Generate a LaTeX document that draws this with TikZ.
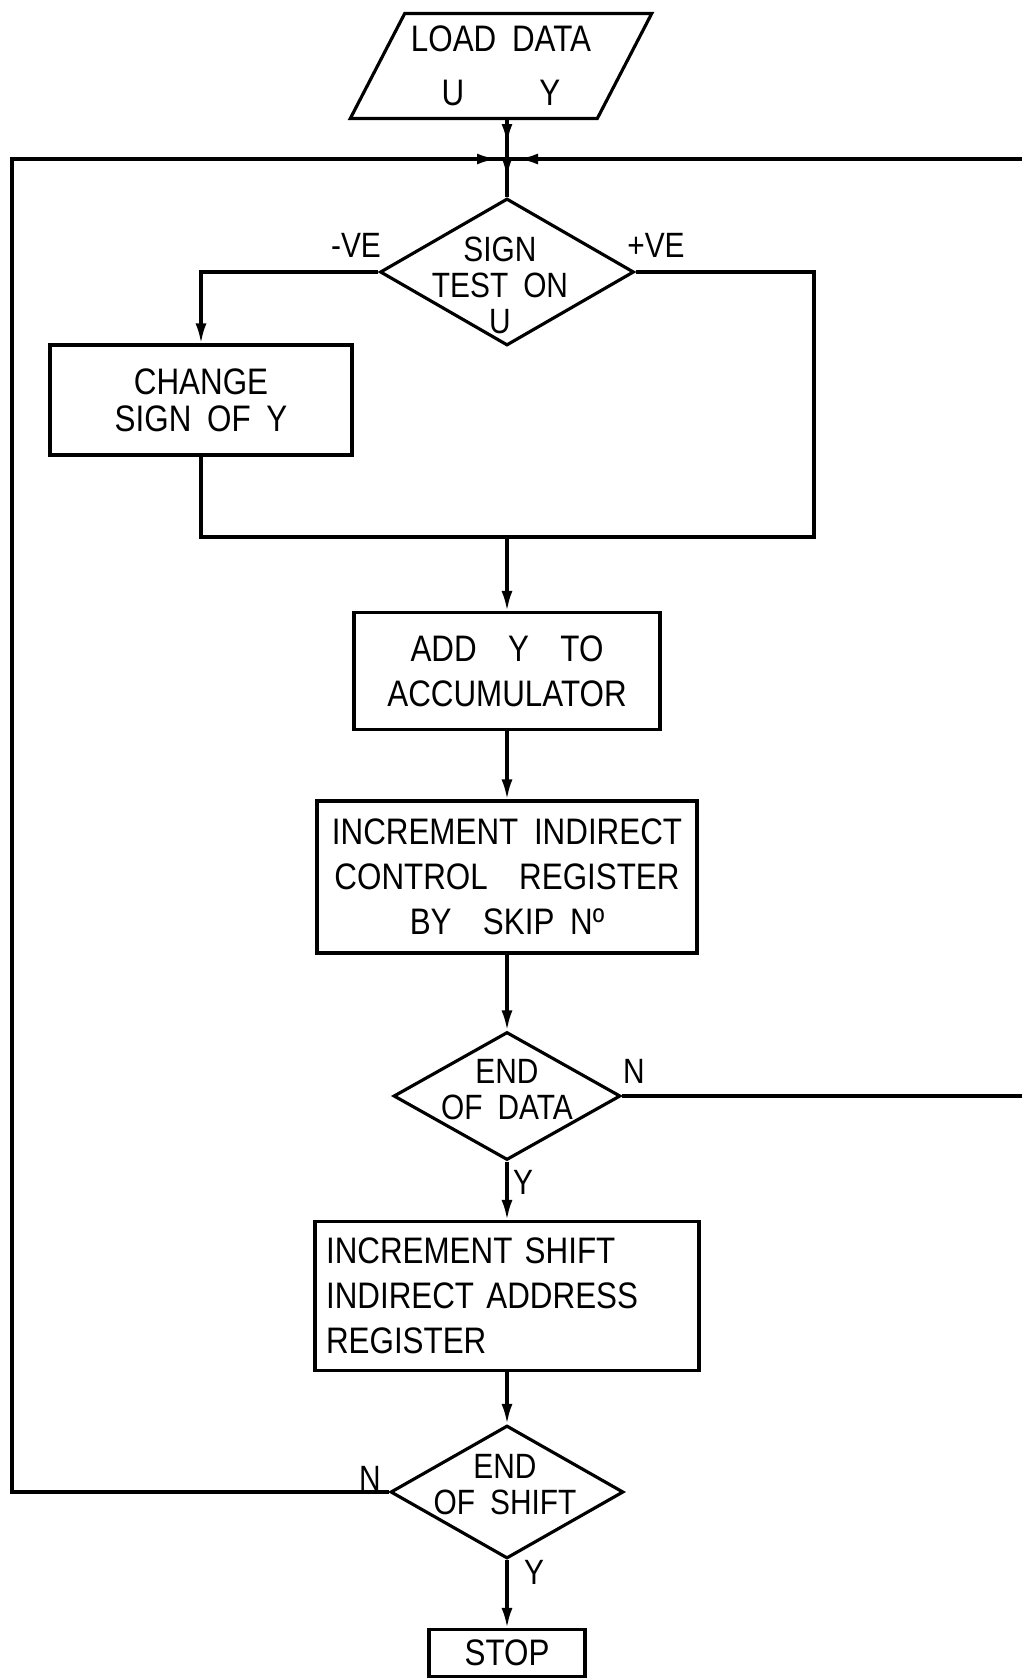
\documentclass[tikz,border=0pt]{standalone}
\usepackage{fontspec}
\setmainfont{Liberation Sans}[FakeStretch=0.85,WordSpace=1.8]
\usepackage{tikz}
\usetikzlibrary{arrows.meta,shapes.geometric,decorations.markings}
\newcommand{\bigtxt}{\fontsize{21}{25.6}\selectfont}
\newcommand{\dectxt}{\fontsize{20}{20.5}\selectfont}
\tikzset{
  io/.style={trapezium,trapezium left angle=59.4,trapezium right angle=120.6,trapezium stretches=true,draw,line width=1.8pt,align=center,font=\bigtxt},
  box/.style={draw,line width=1.8pt,align=center,font=\bigtxt,inner sep=3pt},
  dec/.style={diamond,draw,line width=1.8pt,inner sep=0pt},
  dtxt/.style={align=center,font=\dectxt,inner sep=0pt},
  lbl/.style={font=\dectxt,inner sep=1pt},
  flow/.style={line width=1.8pt},
  arr/.style={flow,-{Latex[length=4mm,width=2.2mm]}},
  tipat/.style={flow,postaction={decorate,decoration={markings,mark=at position #1 with {\arrow{Latex[length=4mm,width=2.2mm]}}}}},
}
\begin{document}
\begin{tikzpicture}[x=0.02cm,y=-0.02cm]
\useasboundingbox (0,0) rectangle (1022,1679);
\node[io,minimum width=6.04cm,minimum height=2.1cm] (load) at (501,66) {LOAD DATA\\[5pt]U\hspace{1.5cm}Y};
\coordinate (j) at (507,159);
\coordinate (lx) at (12,0);
\coordinate (rt) at (1022,159);
\node[dec,minimum width=5.08cm,minimum height=2.94cm] (sign) at (507,272) {};
\node[dtxt] (signt) at (500,285) {SIGN\\TEST ON\\U};
\node[lbl] (neg) at (356,245) {-VE};
\node[lbl] (pos) at (656,245) {+VE};
\node[box,minimum width=6.04cm,minimum height=2.2cm,font={\fontsize{21}{21}\selectfont}] (chg) at (201,400) {CHANGE\\SIGN OF Y};
\coordinate (mg) at (507,537);
\coordinate (pv) at (814,537);
\node[box,minimum width=6.12cm,minimum height=2.34cm] (add) at (507,671) {ADD\ \ Y\ \ TO\\ACCUMULATOR};
\node[box,minimum width=7.6cm,minimum height=3.04cm] (ind) at (507,877) {INCREMENT INDIRECT\\CONTROL\ \ REGISTER\\BY\ \ SKIP\ Nº};
\node[dec,minimum width=4.54cm,minimum height=2.56cm] (data) at (507,1096) {};
\node[dtxt] (datat) at (507,1090) {END\\OF DATA};
\node[lbl] (datan) at (634,1071) {N};
\node[lbl] (datay) at (523,1182) {Y};
\coordinate (dr) at (1022,1096);
\node[box,align=left,text width=7.24cm,inner xsep=0.22cm,minimum height=2.98cm] (sft) at (507,1296) {INCREMENT SHIFT\\INDIRECT ADDRESS\\REGISTER};
\node[dec,minimum width=4.66cm,minimum height=2.66cm] (shift) at (507,1492) {};
\node[dtxt] (shiftt) at (505,1485) {END\\OF SHIFT};
\node[lbl] (shiftn) at (370,1478) {N};
\node[lbl] (shifty) at (534,1572) {Y};
\node[box,minimum width=3.12cm,minimum height=0.94cm,inner sep=0pt] (stop) at (507,1653) {STOP};
\draw[tipat=-0.3cm] (j |- load.south) -- (j);
\draw[tipat=-0.2cm] (shift.west) -- (shift.west -| lx) -- (lx |- j) -- (j);
\draw[tipat=-0.22cm] (rt) -- (j);
\draw[tipat=-0.38cm] (j) -- (sign.north);
\draw[arr] (sign.west) -| (chg.north);
\draw[flow] (chg.south) |- (mg);
\draw[flow] (sign.east) -| (pv) -- (mg);
\draw[arr] (mg) -- (add.north);
\draw[arr] (add) -- (ind);
\draw[arr] (ind) -- (data);
\draw[arr] (data) -- (sft);
\draw[flow] (data.east) -- (dr);
\draw[arr] (sft) -- (shift);
\draw[arr] (shift) -- (stop);
\end{tikzpicture}
\end{document}
